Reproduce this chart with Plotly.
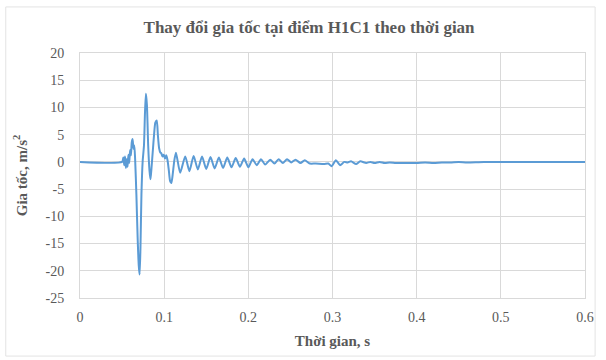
import plotly.graph_objects as go

# time (s) and acceleration (m/s^2)
time_s = [0, 0.050, 0.0515, 0.0525, 0.0535, 0.0545, 0.0555, 0.0565, 0.0575, 0.0585,
          0.0595, 0.0605, 0.0615, 0.0625, 0.0635, 0.0645, 0.0655, 0.067, 0.0685, 0.0698,
          0.0708, 0.0718, 0.073, 0.0745, 0.076, 0.0772, 0.0783, 0.0795, 0.081, 0.0825,
          0.0838, 0.085, 0.0865, 0.088, 0.0895, 0.0912, 0.0925, 0.094, 0.0955, 0.0965,
          0.098, 0.0995, 0.101, 0.1025, 0.104, 0.1055, 0.107, 0.1085, 0.110, 0.112,
          0.114, 0.119, 0.125, 0.130, 0.135, 0.140, 0.145, 0.150, 0.155, 0.160,
          0.165, 0.170, 0.175, 0.180, 0.185, 0.190, 0.195, 0.200, 0.205, 0.210,
          0.215, 0.220, 0.226, 0.231, 0.236, 0.241, 0.246, 0.251, 0.256, 0.262,
          0.267, 0.273, 0.280, 0.290, 0.295, 0.299, 0.304, 0.309, 0.314, 0.318,
          0.322, 0.328, 0.333, 0.340, 0.345, 0.350, 0.356, 0.362, 0.368, 0.375,
          0.380, 0.390, 0.400, 0.410, 0.420, 0.430, 0.440, 0.450, 0.460, 0.480, 0.600]
accel = [0, 0, 0.8, -0.6, 1.0, -1.1, 0.5, -0.9, 1.3, -0.2,
         2.2, 1.2, 3.6, 4.2, 2.4, 3.0, 0.5, -6, -14, -19,
         -20.7, -16, -6, 0.2, 3, 9, 12.5, 10.5, 3, -1.5,
         -3.2, -1.0, 2, 5, 7.2, 7.6, 5, 2.5, 1.7, 1.6,
         1.0, 1.3, 0.6, 1.2, 0.3, -1.5, -3.5, -3.9, -2.5, 0.2,
         1.7, -2.0, 1.0, -1.7, 1.1, -1.4, 1.0, -1.3, 0.9, -1.2,
         0.8, -1.1, 0.8, -1.0, 0.7, -0.9, 0.6, -1.0, 0.5, -0.6,
         0.5, -0.5, 0.4, -0.3, 0.5, -0.2, 0.5, -0.1, 0.4, -0.2,
         0.3, -0.3, -0.3, -0.4, -0.3, -0.8, 0.3, -0.6, 0.0, -0.1,
         0.1, -0.4, 0.1, -0.2, 0.0, -0.2, 0.0, -0.2, -0.1, -0.2,
         -0.2, -0.2, -0.2, -0.1, -0.2, -0.1, -0.1, 0.0, -0.1, 0, 0]

x_ticks = [0, 0.1, 0.2, 0.3, 0.4, 0.5, 0.6]
x_labels = ["0", "0.1", "0.2", "0.3", "0.4", "0.5", "0.6"]
y_ticks = [-25, -20, -15, -10, -5, 0, 5, 10, 15, 20]
y_labels = ["-25", "-20", "-15", "-10", "-5", "0", "5", "10", "15", "20"]

title = "Thay đổi gia tốc tại điểm H1C1 theo thời gian"
x_title = "Thời gian, s"
y_title = "Gia tốc, m/s<sup>2</sup>"

FONT = "Times New Roman, Liberation Serif, serif"
TXT = "#595959"
GRID = "#D9D9D9"

fig = go.Figure()
fig.add_trace(go.Scatter(x=time_s, y=accel, mode="lines",
                         line=dict(color="#5B9BD5", width=2, shape="spline", smoothing=0.6),
                         showlegend=False))

fig.update_layout(
    width=606, height=360,
    margin=dict(l=80, r=17, t=53, b=62),
    paper_bgcolor="white", plot_bgcolor="white",
    font=dict(family=FONT, color=TXT, size=14),
    title=dict(text="<b>" + title + "</b>", x=0.51, xref="container", xanchor="center",
               y=0.925, yref="container", yanchor="middle",
               font=dict(family=FONT, size=17, color=TXT)),
    shapes=[dict(type="rect", xref="paper", yref="paper",
                 x0=-0.147, x1=1.02, y0=-0.237, y1=1.188,
                 line=dict(color="#E3E3E3", width=1), layer="below")],
)
fig.update_xaxes(range=[0, 0.6], tickvals=x_ticks, ticktext=x_labels,
                 showgrid=True, gridcolor=GRID, gridwidth=1,
                 showline=True, linecolor=GRID, mirror=True, zeroline=False,
                 ticks="", ticklabelstandoff=6, tickfont=dict(family=FONT, size=14, color=TXT),
                 title=dict(text="<b>" + x_title + "</b>",
                            font=dict(family=FONT, size=15, color=TXT), standoff=11))
fig.update_yaxes(range=[-25, 20], tickvals=y_ticks, ticktext=y_labels,
                 showgrid=True, gridcolor=GRID, gridwidth=1,
                 showline=True, linecolor=GRID, mirror=True, zeroline=False,
                 ticks="", ticklabelstandoff=12, tickfont=dict(family=FONT, size=14, color=TXT),
                 title=dict(text="<b>" + y_title + "</b>",
                            font=dict(family=FONT, size=15, color=TXT), standoff=14))

fig.write_html("out.html", config={"displayModeBar": False},
               post_script="document.body.style.margin='0';document.body.style.padding='0';")
